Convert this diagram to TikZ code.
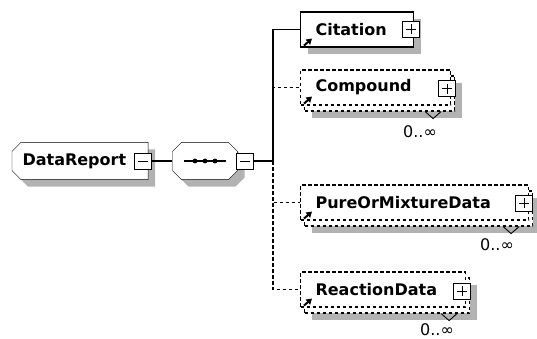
\documentclass[tikz,border=0pt]{standalone}
\usepackage{fontspec}
\setmainfont{DejaVu Sans}
\usetikzlibrary{backgrounds,arrows.meta}

\begin{document}
\begin{tikzpicture}[x=1pt,y=-1pt,line width=1.1pt,
		boxshadow/.style={preaction={fill=black!30,draw=none,transform canvas={shift={(7pt,-7pt)}}}},
		optline/.style={dash pattern=on 3.5pt off 2.5pt},
		elem/.style={draw,fill=white,rectangle,anchor=west,minimum height=35pt,inner xsep=15pt,inner ysep=2pt,text width=#1,align=left,font=\bfseries\fontsize{16}{16}\selectfont},
		backbox/.style={draw,fill=white,boxshadow,optline,anchor=west,minimum width=#1,minimum height=35pt,inner sep=0pt},
		drbox/.style={anchor=west,minimum height=36pt,inner xsep=10pt,inner ysep=2pt,text width=115pt,align=left,font=\bfseries\fontsize{16}{16}\selectfont},
		seqbox/.style={minimum width=64pt,minimum height=36pt,inner sep=0pt},
		plusbox/.style={draw,fill=white,minimum width=17pt,minimum height=16pt,inner sep=0pt,line width=1pt,
			path picture={\draw[line width=1pt] ([xshift=-5pt]path picture bounding box.center) -- ([xshift=5pt]path picture bounding box.center);
				\draw[line width=1pt] ([yshift=-5pt]path picture bounding box.center) -- ([yshift=5pt]path picture bounding box.center);}},
		minusbox/.style={draw,fill=white,minimum width=17pt,minimum height=16pt,inner sep=0pt,line width=1pt,
			path picture={\draw[line width=1pt] ([xshift=-5pt]path picture bounding box.center) -- ([xshift=5pt]path picture bounding box.center);}},
		refarrow/.style={line width=2pt,-{Triangle[length=5.5pt,width=6.5pt]}},
		many/.style={line width=0.9pt},
		card/.style={inner sep=0pt,font=\fontsize{16}{16}\selectfont}]
	\useasboundingbox (0,0) rectangle (537,339);
	\node[drbox] (datareport) at (12,161) {DataReport};
	\node[seqbox] (sequence) at (205,161) {};
	\begin{scope}[on background layer]
		\draw[fill=white,boxshadow] ([xshift=9pt]datareport.north west) -- (datareport.north east)
			-- (datareport.south east) -- ([xshift=9pt]datareport.south west)
			-- ([yshift=9pt]datareport.south west) -- ([yshift=-9pt]datareport.north west) -- cycle;
		\draw[fill=white,boxshadow] ([xshift=9pt]sequence.north west) -- ([xshift=-9pt]sequence.north east)
			-- ([yshift=-9pt]sequence.north east) -- ([yshift=9pt]sequence.south east)
			-- ([xshift=-9pt]sequence.south east) -- ([xshift=9pt]sequence.south west)
			-- ([yshift=9pt]sequence.south west) -- ([yshift=-9pt]sequence.north west) -- cycle;
	\end{scope}
	\node[minusbox] (drminus) at (143,161) {};
	\draw (sequence.center) ++(-21,0) -- ++(42,0);
	\foreach \dx in {-10,0,10}
		\fill ([xshift=\dx pt]sequence.center) circle (2.4pt);
	\node[minusbox] (seqminus) at (245,161) {};
	\coordinate (spine) at (273,161);
	\node[elem=83pt,boxshadow] (citation) at (300,29.5) {Citation};
	\node[plusbox] (citplus) at (411,29.5) {};
	\node[backbox=150pt] (compoundbg) at (304,93.5) {};
	\node[elem=120pt,optline] (compound) at (300,87.5) {Compound};
	\node[plusbox] (compplus) at (447,89) {};
	\node[backbox=228pt] (pureormixturebg) at (304,208.5) {};
	\node[elem=198pt,optline] (pureormixture) at (300,202.5) {PureOrMixtureData};
	\node[plusbox] (pureplus) at (524,203) {};
	\node[backbox=165pt] (reactionbg) at (304,295.5) {};
	\node[elem=135pt,optline] (reaction) at (300,289.5) {ReactionData};
	\node[plusbox] (reactplus) at (462,291) {};
	\node[card] (compoundcard) at (420,132) {0..∞};
	\node[card] (pureormixturecard) at (497,245) {0..∞};
	\node[card] (reactioncard) at (437,330) {0..∞};
	\draw[refarrow] ([shift={(4,-2)}]citation.south west) -- ++(8,-7);
	\draw[refarrow] ([shift={(4,-2)}]compound.south west) -- ++(8,-7);
	\draw[refarrow] ([shift={(4,-2)}]pureormixture.south west) -- ++(8,-7);
	\draw[refarrow] ([shift={(4,-2)}]reaction.south west) -- ++(8,-7);
	\draw[many] ([xshift=-30pt]compoundbg.south east) -- ++(8,7) -- ++(8,-7);
	\draw[many] ([xshift=-30pt]pureormixturebg.south east) -- ++(8,7) -- ++(8,-7);
	\draw[many] ([xshift=-29pt]reactionbg.south east) -- ++(8,7) -- ++(8,-7);
	\draw (drminus) -- (sequence);
	\draw (seqminus) -- (spine);
	\draw (spine) |- (citation);
	\draw[optline] (spine) |- (compound);
	\draw[optline] (spine) |- (pureormixture);
	\draw[optline] (spine) |- (reaction);
\end{tikzpicture}
\end{document}
